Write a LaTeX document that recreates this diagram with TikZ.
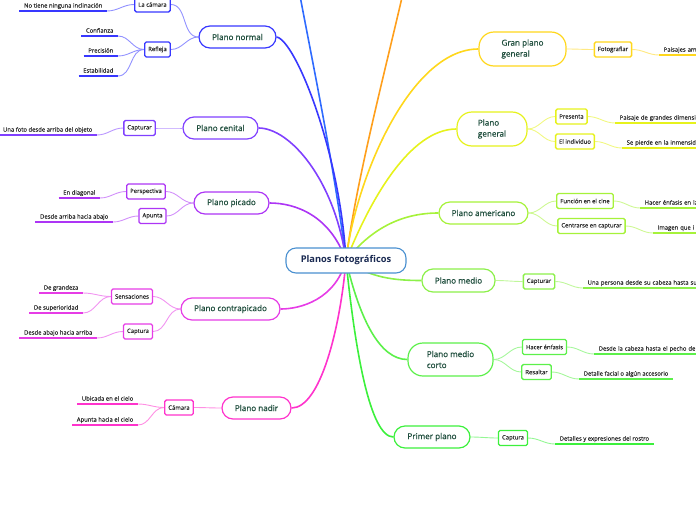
\documentclass[tikz,border=0pt]{standalone}
\usepackage{fontspec}
\setmainfont{Open Sans}
\newfontfamily\topicfont{Open Sans}[FakeBold=0.6]
\newfontfamily\smallfont{Open Sans}[FakeBold=0.2]
\pgfdeclarelayer{bg}
\pgfsetlayers{bg,main}
\definecolor{cCentral}{HTML}{4A90D0}
\definecolor{cCentralText}{HTML}{1A2A52}
\definecolor{cTopicText}{HTML}{1E4D3C}
\definecolor{cTxt}{HTML}{2A2A2A}
\definecolor{cNormal}{HTML}{3838FF}
\definecolor{cTopBlue}{HTML}{2F6BFF}
\definecolor{cCenital}{HTML}{8040FF}
\definecolor{cPicado}{HTML}{AD35F5}
\definecolor{cContra}{HTML}{E63CE6}
\definecolor{cNadir}{HTML}{FF33CC}
\definecolor{cOrange}{HTML}{FF9F1C}
\definecolor{cGran}{HTML}{FFD71C}
\definecolor{cGeneral}{HTML}{E6F21C}
\definecolor{cAmer}{HTML}{A6F23A}
\definecolor{cMedio}{HTML}{8CF04A}
\definecolor{cMC}{HTML}{5CF04A}
\definecolor{cPrimer}{HTML}{3CF03C}
\tikzset{
  central/.style={draw=cCentral, line width=1.1pt, rounded corners=10pt, fill=white,
    minimum width=120pt, minimum height=25pt, inner sep=1pt,
    font=\fontsize{9.3}{11}\selectfont\bfseries, text=cCentralText},
  topic/.style={draw=#1, line width=1.2pt, rounded corners=11pt, fill=white,
    minimum height=22pt, inner sep=2pt, font=\topicfont\fontsize{8.1}{11}\selectfont, text=cTopicText},
  subbox/.style={draw=#1, line width=1.3pt, rounded corners=1.5pt, fill=white,
    minimum height=15pt, inner xsep=3.5pt, inner ysep=1pt,
    font=\smallfont\fontsize{5.9}{7}\selectfont, text=cTxt},
  leaf/.style={font=\smallfont\fontsize{5.9}{7}\selectfont, text=cTxt, inner xsep=4.5pt,
    inner ysep=2.2pt, text height=4.3pt, text depth=1pt},
  uline/.style={draw=#1, line width=1.6pt},
  branch/.style={draw=#1, line width=1.6pt},
  twig/.style={draw=#1!55, line width=0.9pt},
}
\begin{document}
\begin{tikzpicture}[x=1pt, y=-1pt]
\useasboundingbox (0,0) rectangle (696,520);

% central
\node[central] (c) at (346,260.5) {Planos Fotográficos};
\coordinate (topblue) at (297,-20);
\coordinate (toporange) at (406,-20);

% main topics
\node[topic=cNormal, minimum width=77pt] (pnormal) at (237.5,37) {Plano normal};
\node[topic=cCenital, minimum width=75pt] (pcenital) at (220.5,128) {Plano cenital};
\node[topic=cPicado, minimum width=75pt] (ppicado) at (231.5,203) {Plano picado};
\node[topic=cContra, minimum width=99pt] (pcontra) at (230.5,309) {Plano contrapicado};
\node[topic=cNadir, minimum width=69pt] (pnadir) at (256.5,408) {Plano nadir};
\node[topic=cGran, minimum width=87pt, minimum height=34pt, rounded corners=15pt, align=left] (gpg) at (522.5,49) {Gran plano\\general};
\node[topic=cGeneral, minimum width=70pt, minimum height=34pt, rounded corners=15pt, align=left] (pgen) at (492,129) {Plano\\general};
\node[topic=cAmer, minimum width=89pt] (pamer) at (483.5,213) {Plano americano};
\node[topic=cMedio, minimum width=73pt, minimum height=23pt] (pmedio) at (458.5,280.5) {Plano medio};
\node[topic=cMC, minimum width=85pt, minimum height=33pt, rounded corners=15pt, align=left] (pmc) at (450.5,359.5) {Plano medio\\corto};
\node[topic=cPrimer, minimum width=76pt] (primer) at (432,437) {Primer plano};

% sub topics
\node[subbox=cNormal] (lacam) at (152.5,4.5) {La cámara};
\node[subbox=cNormal] (refleja) at (157.5,49.5) {Refleja};
\node[subbox=cCenital] (capt1) at (139.5,128) {Capturar};
\node[subbox=cPicado] (persp) at (146,191.5) {Perspectiva};
\node[subbox=cPicado] (apunta) at (152.5,216) {Apunta};
\node[subbox=cContra] (sens) at (132,296.5) {Sensaciones};
\node[subbox=cContra] (capt2) at (138,331.5) {Captura};
\node[subbox=cNadir] (camara) at (179,407.5) {Cámara};
\node[subbox=cGran] (fotog) at (613,49.5) {Fotografiar};
\node[subbox=cGeneral] (presenta) at (571.5,116.5) {Presenta};
\node[subbox=cGeneral] (indiv) at (575,141.5) {El individuo};
\node[subbox=cAmer] (funcion) at (585,201) {Función en el cine};
\node[subbox=cAmer] (centrarse) at (591.5,226) {Centrarse en capturar};
\node[subbox=cMedio] (capt3) at (539,281.5) {Capturar};
\node[subbox=cMC] (hacer) at (544.5,347) {Hacer énfasis};
\node[subbox=cMC] (resaltar) at (536.5,372) {Resaltar};
\node[subbox=cPrimer] (capt4) at (513,438) {Captura};

% left leaves
\node[leaf, anchor=south east] (lIncl) at (107,11) {No tiene ninguna inclinación};
\node[leaf, anchor=south east] (lConf) at (118,36) {Confianza};
\node[leaf, anchor=south east] (lPrec) at (118,56) {Precisión};
\node[leaf, anchor=south east] (lEstab) at (118,76) {Estabilidad};
\node[leaf, anchor=south east] (lFoto) at (97,135) {Una foto desde arriba del objeto};
\node[leaf, anchor=south east] (lDiag) at (100,198) {En diagonal};
\node[leaf, anchor=south east] (lDesde) at (113,222) {Desde arriba hacia abajo};
\node[leaf, anchor=south east] (lGrand) at (83,293) {De grandeza};
\node[leaf, anchor=south east] (lSup) at (83,313) {De superioridad};
\node[leaf, anchor=south east] (lAbajo) at (97,338) {Desde abajo hacia arriba};
\node[leaf, anchor=south east] (lUbic) at (138,404) {Ubicada en el cielo};
\node[leaf, anchor=south east] (lApunta) at (138,425) {Apunta hacia el cielo};

% right leaves
\node[leaf, anchor=south west, text width=120pt, align=left] (rPais) at (659,55) {Paisajes am};
\node[leaf, anchor=south west, text width=120pt, align=left] (rDim) at (615,123) {Paisaje de grandes dimensi};
\node[leaf, anchor=south west, text width=120pt, align=left] (rPierde) at (622,148) {Se pierde en la inmensida};
\node[leaf, anchor=south west, text width=120pt, align=left] (rHacer) at (640,208) {Hacer énfasis en la};
\node[leaf, anchor=south west, text width=120pt, align=left] (rImagen) at (653,233) {Imagen que i};
\node[leaf, anchor=south west, text width=140pt, align=left] (rPersona) at (583,288) {Una persona desde su cabeza hasta su};
\node[leaf, anchor=south west, text width=140pt, align=left] (rPecho) at (594,354) {Desde la cabeza hasta el pecho de};
\node[leaf, anchor=south west] (rDetalle) at (579,379) {Detalle facial o algún accesorio};
\node[leaf, anchor=south west] (rRostro) at (555,444) {Detalles y expresiones del rostro};

\begin{pgfonlayer}{bg}
% main branches
\draw[branch=cTopBlue] (c.center) .. controls (335,170) and (312,60) .. (topblue);
\draw[branch=cOrange] (c.center) .. controls (356,180) and (388,60) .. (toporange);
\draw[branch=cNormal] (c.center) .. controls (340,150) and (295,40) .. (pnormal.east);
\draw[branch=cCenital] (c.center) .. controls (335,180) and (290,128) .. (pcenital.east);
\draw[branch=cPicado] (c.center) .. controls (330,215) and (295,203) .. (ppicado.east);
\draw[branch=cContra] (c.center) .. controls (335,300) and (300,309) .. (pcontra.east);
\draw[branch=cNadir] (c.center) .. controls (340,330) and (320,408) .. (pnadir.east);
\draw[branch=cGran] (c.center) .. controls (355,180) and (410,49) .. (gpg.west);
\draw[branch=cGeneral] (c.center) .. controls (370,200) and (410,129) .. (pgen.west);
\draw[branch=cAmer] (c.center) .. controls (370,230) and (400,213) .. (pamer.west);
\draw[branch=cMedio] (c.center) .. controls (370,278) and (395,280.5) .. (pmedio.west);
\draw[branch=cMC] (c.center) .. controls (360,320) and (380,359.5) .. (pmc.west);
\draw[branch=cPrimer] (c.center) .. controls (355,350) and (370,437) .. (primer.west);

% sub connectors (left)
\draw[twig=cNormal] (lacam.east) to[out=0,in=180] (pnormal.west);
\draw[twig=cNormal] (refleja.east) to[out=0,in=180] (pnormal.west);
\draw[twig=cCenital] (capt1.east) to[out=0,in=180] (pcenital.west);
\draw[twig=cPicado] (persp.east) to[out=0,in=180] (ppicado.west);
\draw[twig=cPicado] (apunta.east) to[out=0,in=180] (ppicado.west);
\draw[twig=cContra] (sens.east) to[out=0,in=180] (pcontra.west);
\draw[twig=cContra] (capt2.east) to[out=0,in=180] (pcontra.west);
\draw[twig=cNadir] (camara.east) to[out=0,in=180] (pnadir.west);
% sub connectors (right)
\draw[twig=cGran] (gpg.east) to[out=0,in=180] (fotog.west);
\draw[twig=cGeneral] (pgen.east) to[out=0,in=180] (presenta.west);
\draw[twig=cGeneral] (pgen.east) to[out=0,in=180] (indiv.west);
\draw[twig=cAmer] (pamer.east) to[out=0,in=180] (funcion.west);
\draw[twig=cAmer] (pamer.east) to[out=0,in=180] (centrarse.west);
\draw[twig=cMedio] (pmedio.east) to[out=0,in=180] (capt3.west);
\draw[twig=cMC] (pmc.east) to[out=0,in=180] (hacer.west);
\draw[twig=cMC] (pmc.east) to[out=0,in=180] (resaltar.west);
\draw[twig=cPrimer] (primer.east) to[out=0,in=180] (capt4.west);

% leaf connectors (left)
\draw[twig=cNormal] (lacam.west) to[out=180,in=0] (lIncl.south east);
\draw[twig=cNormal] (refleja.west) to[out=180,in=0] (lConf.south east);
\draw[twig=cNormal] (refleja.west) to[out=180,in=0] (lPrec.south east);
\draw[twig=cNormal] (refleja.west) to[out=180,in=0] (lEstab.south east);
\draw[twig=cCenital] (capt1.west) to[out=180,in=0] (lFoto.south east);
\draw[twig=cPicado] (persp.west) to[out=180,in=0] (lDiag.south east);
\draw[twig=cPicado] (apunta.west) to[out=180,in=0] (lDesde.south east);
\draw[twig=cContra] (sens.west) to[out=180,in=0] (lGrand.south east);
\draw[twig=cContra] (sens.west) to[out=180,in=0] (lSup.south east);
\draw[twig=cContra] (capt2.west) to[out=180,in=0] (lAbajo.south east);
\draw[twig=cNadir] (camara.west) to[out=180,in=0] (lUbic.south east);
\draw[twig=cNadir] (camara.west) to[out=180,in=0] (lApunta.south east);
% leaf connectors (right)
\draw[twig=cGran] (fotog.east) to[out=0,in=180] (rPais.south west);
\draw[twig=cGeneral] (presenta.east) to[out=0,in=180] (rDim.south west);
\draw[twig=cGeneral] (indiv.east) to[out=0,in=180] (rPierde.south west);
\draw[twig=cAmer] (funcion.east) to[out=0,in=180] (rHacer.south west);
\draw[twig=cAmer] (centrarse.east) to[out=0,in=180] (rImagen.south west);
\draw[twig=cMedio] (capt3.east) to[out=0,in=180] (rPersona.south west);
\draw[twig=cMC] (hacer.east) to[out=0,in=180] (rPecho.south west);
\draw[twig=cMC] (resaltar.east) to[out=0,in=180] (rDetalle.south west);
\draw[twig=cPrimer] (capt4.east) to[out=0,in=180] (rRostro.south west);
\end{pgfonlayer}

% underlines
\foreach \n/\col in {lIncl/cNormal, lConf/cNormal, lPrec/cNormal, lEstab/cNormal,
  lFoto/cCenital, lDiag/cPicado, lDesde/cPicado, lGrand/cContra, lSup/cContra,
  lAbajo/cContra, lUbic/cNadir, lApunta/cNadir, rPais/cGran, rDim/cGeneral,
  rPierde/cGeneral, rHacer/cAmer, rImagen/cAmer, rPersona/cMedio, rPecho/cMC,
  rDetalle/cMC, rRostro/cPrimer}
  \draw[uline=\col] (\n.south west) -- (\n.south east);
\end{tikzpicture}
\end{document}
